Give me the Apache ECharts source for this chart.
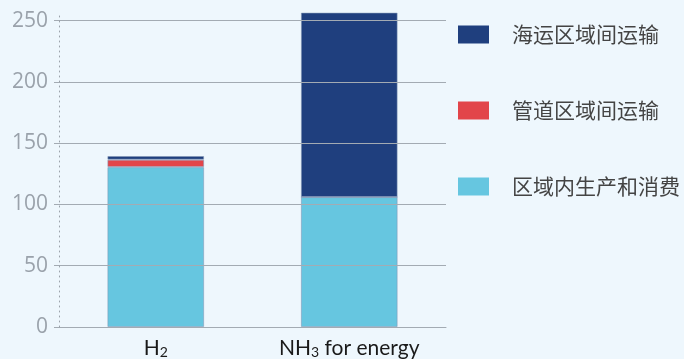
<!DOCTYPE html>
<html>
<head>
<meta charset="utf-8">
<script src="https://cdn.jsdelivr.net/npm/echarts@6/dist/echarts.min.js"></script>
<style>
  html, body { margin: 0; padding: 0; background: #eef7fd; }
  #chart { width: 684px; height: 359px; }
</style>
</head>
<body>
<div id="chart"></div>
<script>
// Categories and stacked values (bottom to top)
const categories = ['H2', 'NH3'];
const categoryLabels = ['{n|H}{s|2}', '{n|NH}{s|3}{n| for energy}'];
const seriesNames = ['区域内生产和消费', '管道区域间运输', '海运区域间运输'];
const intraRegional = [130.5, 106];
const pipelineTrade = [6, 0];
const shippingTrade = [3, 150.5];
const yTicks = [0, 50, 100, 150, 200, 250];
const yMax = 257;

const colors = ['#66c6e0', '#e2454a', '#1f3f7e'];
const values = [intraRegional, pipelineTrade, shippingTrade];

const chart = echarts.init(document.getElementById('chart'));
chart.setOption({
  backgroundColor: '#eef7fd',
  animation: false,
  grid: { left: 59, right: 238, top: 12, bottom: 32 },
  legend: {
    orient: 'vertical',
    left: 453,
    top: 19,
    itemWidth: 31,
    itemHeight: 18,
    itemGap: 55,
    icon: 'rect',
    itemStyle: { borderWidth: 0 },
    data: [seriesNames[2], seriesNames[1], seriesNames[0]],
    textStyle: {
      fontFamily: 'Noto Sans CJK SC',
      fontSize: 21,
      color: '#444444',
      padding: [0, 0, 0, 18]
    }
  },
  xAxis: {
    type: 'category',
    data: categories,
    axisLine: { lineStyle: { color: '#a3abb3', width: 1 } },
    axisTick: { show: false },
    axisLabel: {
      margin: 10,
      formatter: (v, i) => categoryLabels[i],
      rich: {
        n: { fontFamily: 'Lato', fontSize: 21, color: '#1a1a1a' },
        s: { fontFamily: 'Lato', fontSize: 14, color: '#1a1a1a', padding: [8, 0, 0, 0] }
      }
    }
  },
  yAxis: {
    type: 'value',
    min: 0,
    max: yMax,
    interval: 50,
    z: 3,
    axisLine: { show: true, lineStyle: { color: '#9aa2aa', type: [1, 4], width: 1 } },
    axisTick: { show: true, length: 5, customValues: yTicks, lineStyle: { color: '#a3abb3' } },
    axisLabel: {
      customValues: yTicks,
      margin: 11,
      fontFamily: 'Open Sans',
      fontSize: 21,
      color: '#9aa2ab'
    },
    splitLine: { show: true, lineStyle: { color: '#a3abb3', width: 1 } }
  },
  series: values.map((d, i) => ({
    name: seriesNames[i],
    type: 'bar',
    stack: 'total',
    barWidth: '50%',
    data: d,
    itemStyle: { color: colors[i], borderColor: 'rgba(130,150,180,0.55)', borderWidth: 1 }
  }))
});
</script>
</body>
</html>
